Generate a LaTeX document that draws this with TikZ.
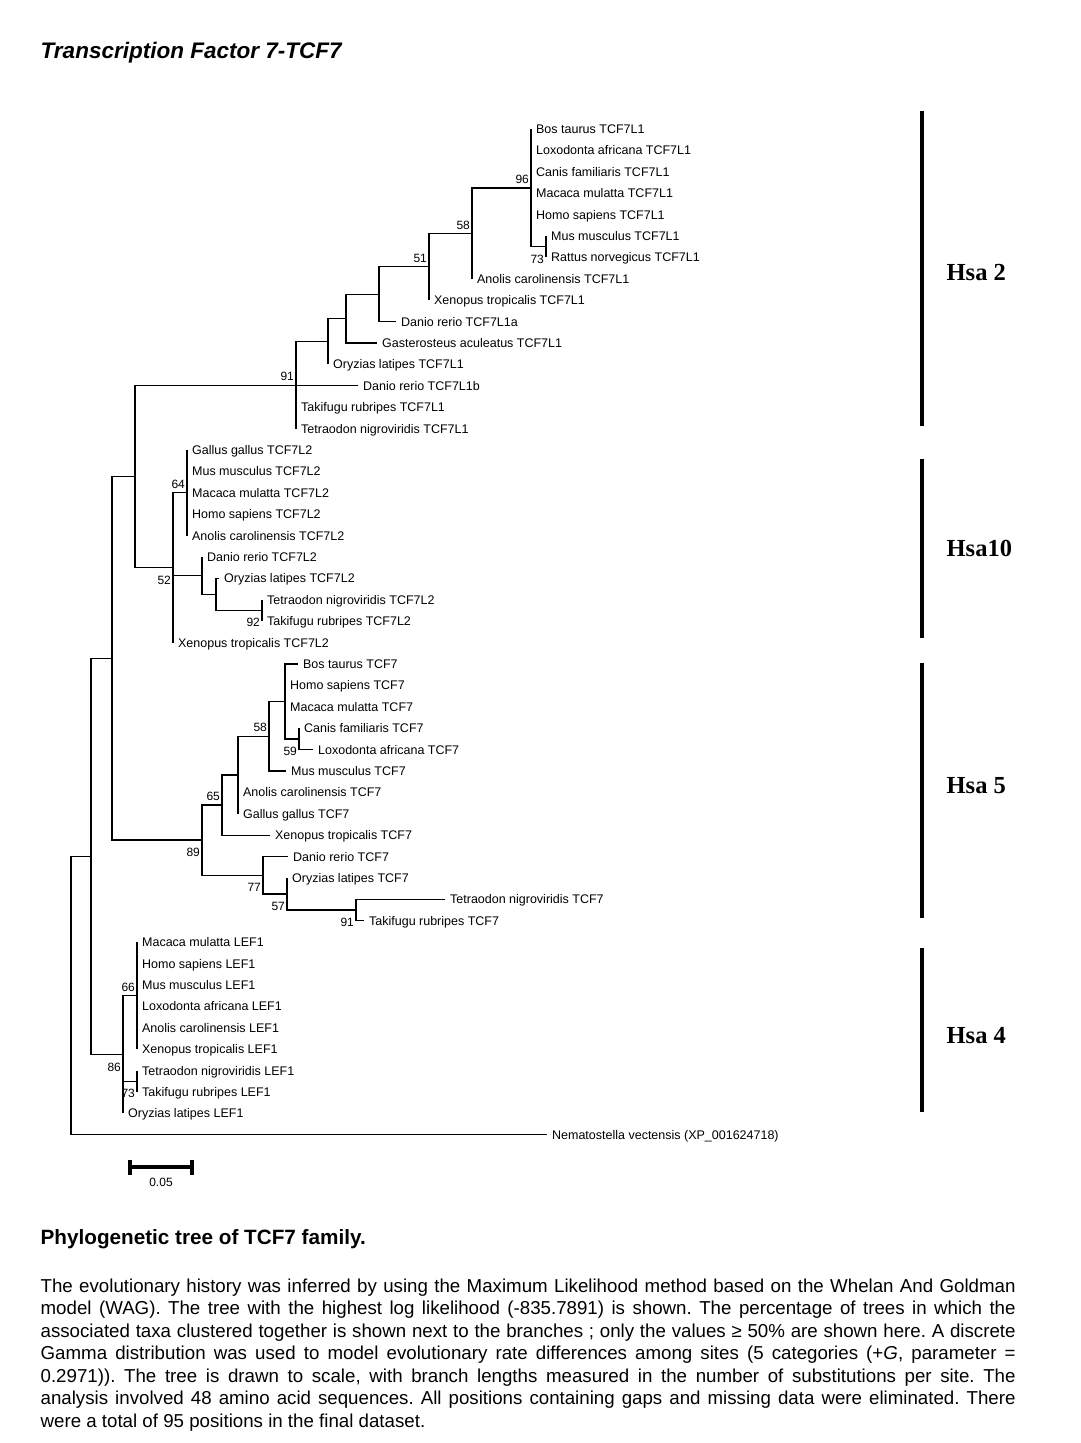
\documentclass[tikz,border=0pt]{standalone}
\usepackage{fontspec}
\setmainfont{Liberation Sans}
\newfontfamily\hsafont{Liberation Serif}
\usetikzlibrary{positioning}
\frenchspacing

\begin{document}
\begin{tikzpicture}[x=1pt, y=-1pt,
    line width=1.3pt,
    leaf/.style={anchor=west, inner xsep=4.5pt, inner ysep=0pt,
      text height=9pt, text depth=0pt, font=\fontsize{12.5}{15}\selectfont},
    bsa/.style={anchor=south east, inner sep=0pt, xshift=-1.5pt, yshift=3.7pt,
      text height=8.6pt, text depth=0pt, font=\fontsize{12}{14}\selectfont},
    bsb/.style={anchor=north east, inner sep=0pt, xshift=-1.5pt, yshift=-7.2pt,
      text height=8.6pt, text depth=0pt, font=\fontsize{12}{14}\selectfont},
    hsa/.style={anchor=west, inner sep=0pt,
      font=\hsafont\bfseries\fontsize{24.5}{28}\selectfont},
    chrbar/.style={line width=4pt}
  ]

  \useasboundingbox (0,0) rectangle (1081,1443);

  \node [anchor=base west, inner sep=0pt,
    font=\bfseries\itshape\fontsize{22.5}{26}\selectfont
  ] (title) at (40,58) {Transcription Factor 7-TCF7};

  \begin{scope}[y=-21.4pt, yshift=-129pt]
    % internal nodes
    \coordinate (root) at (71, 40.50);
    \coordinate (na) at (91, 33.99);
    \coordinate (nb) at (112, 24.73);
    \coordinate (nc) at (135, 16.23);

    \coordinate (l1a) at (296, 11.97);
    \coordinate (l1b) at (328, 9.93);
    \coordinate (l1c) at (346, 8.86);
    \coordinate (l1d) at (379, 7.72);
    \coordinate (l1e) at (429, 6.44);
    \coordinate (l1f) at (472, 4.88);
    \coordinate (l1g) at (531, 2.75);
    \coordinate (l1h) at (546, 5.5);

    \coordinate (l2a) at (173, 20.5);
    \coordinate (l2b) at (187, 17);
    \coordinate (l2c) at (202, 20.875);
    \coordinate (l2d) at (216, 21.75);
    \coordinate (l2e) at (262, 22.5);

    \coordinate (t7a) at (202, 33.23);
    \coordinate (t7b) at (222, 31.59);
    \coordinate (t7c) at (238, 30.19);
    \coordinate (t7d) at (269, 28.375);
    \coordinate (t7e) at (285, 26.75);
    \coordinate (t7f) at (299, 28.5);
    \coordinate (t7g) at (263, 34.875);
    \coordinate (t7h) at (287, 35.75);
    \coordinate (t7i) at (356, 36.5);

    \coordinate (lfa) at (123, 43.25);
    \coordinate (lfb) at (137, 40.5);
    \coordinate (lfc) at (137, 44.5);

    % taxa
    \node [leaf] (bosl1) at (531, 0) {Bos taurus TCF7L1};
    \node [leaf] (loxl1) at (531, 1) {Loxodonta africana TCF7L1};
    \node [leaf] (canl1) at (531, 2) {Canis familiaris TCF7L1};
    \node [leaf] (macl1) at (531, 3) {Macaca mulatta TCF7L1};
    \node [leaf] (homl1) at (531, 4) {Homo sapiens TCF7L1};
    \node [leaf] (musl1) at (546, 5) {Mus musculus TCF7L1};
    \node [leaf] (ratl1) at (546, 6) {Rattus norvegicus TCF7L1};
    \node [leaf] (anol1) at (472, 7) {Anolis carolinensis TCF7L1};
    \node [leaf] (xenl1) at (429, 8) {Xenopus tropicalis TCF7L1};
    \node [leaf] (danl1a) at (396, 9) {Danio rerio TCF7L1a};
    \node [leaf] (gasl1) at (377, 10) {Gasterosteus aculeatus TCF7L1};
    \node [leaf] (oryl1) at (328, 11) {Oryzias latipes TCF7L1};
    \node [leaf] (danl1b) at (358, 12) {Danio rerio TCF7L1b};
    \node [leaf] (takl1) at (296, 13) {Takifugu rubripes TCF7L1};
    \node [leaf] (tetl1) at (296, 14) {Tetraodon nigroviridis TCF7L1};

    \node [leaf] (gall2) at (187, 15) {Gallus gallus TCF7L2};
    \node [leaf] (musl2) at (187, 16) {Mus musculus TCF7L2};
    \node [leaf] (macl2) at (187, 17) {Macaca mulatta TCF7L2};
    \node [leaf] (homl2) at (187, 18) {Homo sapiens TCF7L2};
    \node [leaf] (anol2) at (187, 19) {Anolis carolinensis TCF7L2};
    \node [leaf] (danl2) at (202, 20) {Danio rerio TCF7L2};
    \node [leaf] (oryl2) at (219, 21) {Oryzias latipes TCF7L2};
    \node [leaf] (tetl2) at (262, 22) {Tetraodon nigroviridis TCF7L2};
    \node [leaf] (takl2) at (262, 23) {Takifugu rubripes TCF7L2};
    \node [leaf] (xenl2) at (173, 24) {Xenopus tropicalis TCF7L2};

    \node [leaf] (bost7) at (298, 25) {Bos taurus TCF7};
    \node [leaf] (homt7) at (285, 26) {Homo sapiens TCF7};
    \node [leaf] (mact7) at (285, 27) {Macaca mulatta TCF7};
    \node [leaf] (cant7) at (299, 28) {Canis familiaris TCF7};
    \node [leaf] (loxt7) at (313, 29) {Loxodonta africana TCF7};
    \node [leaf] (must7) at (286, 30) {Mus musculus TCF7};
    \node [leaf] (anot7) at (238, 31) {Anolis carolinensis TCF7};
    \node [leaf] (galt7) at (238, 32) {Gallus gallus TCF7};
    \node [leaf] (xent7) at (270, 33) {Xenopus tropicalis TCF7};
    \node [leaf] (dant7) at (288, 34) {Danio rerio TCF7};
    \node [leaf] (oryt7) at (287, 35) {Oryzias latipes TCF7};
    \node [leaf] (tett7) at (445, 36) {Tetraodon nigroviridis TCF7};
    \node [leaf] (takt7) at (364, 37) {Takifugu rubripes TCF7};

    \node [leaf] (maclf) at (137, 38) {Macaca mulatta LEF1};
    \node [leaf] (homlf) at (137, 39) {Homo sapiens LEF1};
    \node [leaf] (muslf) at (137, 40) {Mus musculus LEF1};
    \node [leaf] (loxlf) at (137, 41) {Loxodonta africana LEF1};
    \node [leaf] (anolf) at (137, 42) {Anolis carolinensis LEF1};
    \node [leaf] (xenlf) at (137, 43) {Xenopus tropicalis LEF1};
    \node [leaf] (tetlf) at (137, 44) {Tetraodon nigroviridis LEF1};
    \node [leaf] (taklf) at (137, 45) {Takifugu rubripes LEF1};
    \node [leaf] (orylf) at (123, 46) {Oryzias latipes LEF1};

    \node [leaf] (nemve) at (547, 47) {Nematostella vectensis (XP\_001624718)};

    % branches
    \draw (root) |- (na) (root) |- (nemve);
    \draw (na) |- (nb) (na) |- (lfa);
    \draw (nb) |- (nc) (nb) |- (t7a);
    \draw (nc) |- (l1a) (nc) |- (l2a);

    \draw (l1a) |- (l1b) (l1a) |- (danl1b) (l1a) |- (takl1) (l1a) |- (tetl1);
    \draw (l1b) |- (l1c) (l1b) |- (oryl1);
    \draw (l1c) |- (l1d) (l1c) |- (gasl1);
    \draw (l1d) |- (l1e) (l1d) |- (danl1a);
    \draw (l1e) |- (l1f) (l1e) |- (xenl1);
    \draw (l1f) |- (l1g) (l1f) |- (anol1);
    \draw (l1g) |- (bosl1) (l1g) |- (loxl1) (l1g) |- (canl1)
      (l1g) |- (macl1) (l1g) |- (homl1) (l1g) |- (l1h);
    \draw (l1h) |- (musl1) (l1h) |- (ratl1);

    \draw (l2a) |- (l2b) (l2a) |- (l2c) (l2a) |- (xenl2);
    \draw (l2b) |- (gall2) (l2b) |- (musl2) (l2b) |- (macl2)
      (l2b) |- (homl2) (l2b) |- (anol2);
    \draw (l2c) |- (danl2) (l2c) |- (l2d);
    \draw (l2d) |- (oryl2) (l2d) |- (l2e);
    \draw (l2e) |- (tetl2) (l2e) |- (takl2);

    \draw (t7a) |- (t7b) (t7a) |- (t7g);
    \draw (t7b) |- (t7c) (t7b) |- (xent7);
    \draw (t7c) |- (t7d) (t7c) |- (anot7) (t7c) |- (galt7);
    \draw (t7d) |- (t7e) (t7d) |- (must7);
    \draw (t7e) |- (bost7) (t7e) |- (homt7) (t7e) |- (mact7) (t7e) |- (t7f);
    \draw (t7f) |- (cant7) (t7f) |- (loxt7);
    \draw (t7g) |- (dant7) (t7g) |- (t7h);
    \draw (t7h) |- (oryt7) (t7h) |- (t7i);
    \draw (t7i) |- (tett7) (t7i) |- (takt7);

    \draw (lfa) |- (lfb) (lfa) |- (lfc) (lfa) |- (orylf);
    \draw (lfb) |- (maclf) (lfb) |- (homlf) (lfb) |- (muslf)
      (lfb) |- (loxlf) (lfb) |- (anolf) (lfb) |- (xenlf);
    \draw (lfc) |- (tetlf) (lfc) |- (taklf);

    % bootstrap values
    \node [bsa] (bl1a) at (l1a) {91};
    \node [bsa] (bl1e) at (l1e) {51};
    \node [bsa] (bl1f) at (l1f) {58};
    \node [bsa] (bl1g) at (l1g) {96};
    \node [bsb] (bl1h) at (l1h) {73};
    \node [bsb] (bl2a) at (l2a) {52};
    \node [bsa] (bl2b) at (l2b) {64};
    \node [bsb] (bl2e) at (l2e) {92};
    \node [bsb] (bt7a) at (t7a) {89};
    \node [bsa] (bt7b) at (t7b) {65};
    \node [bsa] (bt7d) at (t7d) {58};
    \node [bsb] (bt7f) at (t7f) {59};
    \node [bsb] (bt7g) at (t7g) {77};
    \node [bsb] (bt7h) at (t7h) {57};
    \node [bsb] (bt7i) at (t7i) {91};
    \node [bsb] (blfa) at (lfa) {86};
    \node [bsa] (blfb) at (lfb) {66};
    \node [bsb] (blfc) at (lfc) {73};
  \end{scope}

  % chromosome bars
  \draw [chrbar] (922,111) -- (922,426);
  \draw [chrbar] (922,459) -- (922,638);
  \draw [chrbar] (922,663) -- (922,918);
  \draw [chrbar] (922,948) -- (922,1112);
  \node [hsa] (hsa2) at (946,273) {Hsa 2};
  \node [hsa] (hsa10) at (946,548) {Hsa10};
  \node [hsa] (hsa5) at (946,786) {Hsa 5};
  \node [hsa] (hsa4) at (946,1036) {Hsa 4};

  % scale bar
  \draw [line width=3.5pt] (130,1167) -- (191.5,1167);
  \draw [line width=4pt] (130,1160) -- (130,1175) (191.5,1160) -- (191.5,1175);
  \node [inner sep=0pt, font=\fontsize{12}{14}\selectfont] (sbl) at (161,1182) {0.05};

  \node [anchor=base west, inner sep=0pt,
    font=\bfseries\fontsize{20.7}{24}\selectfont
  ] (capt) at (40,1244) {Phylogenetic tree of TCF7 family.};

  \node [anchor=base west, inner sep=0pt,
    font=\fontsize{18.7}{22.5}\selectfont
  ] (desc) at (40,1292) {\parbox[t]{975pt}{\hyphenpenalty=10000
    The evolutionary history was inferred by using the Maximum Likelihood method based on the Whelan And Goldman\linebreak
    model (WAG). The tree with the highest log likelihood (-835.7891) is shown. The percentage of trees in which the\linebreak
    associated taxa clustered together is shown next to the branches ; only the values ≥ 50\% are shown here. A discrete\linebreak
    Gamma distribution was used to model evolutionary rate differences among sites (5 categories (+\textit{G}, parameter =\linebreak
    0.2971)). The tree is drawn to scale, with branch lengths measured in the number of substitutions per site. The\linebreak
    analysis involved 48 amino acid sequences. All positions containing gaps and missing data were eliminated. There\linebreak
    were a total of 95 positions in the final dataset.}};

\end{tikzpicture}
\end{document}
